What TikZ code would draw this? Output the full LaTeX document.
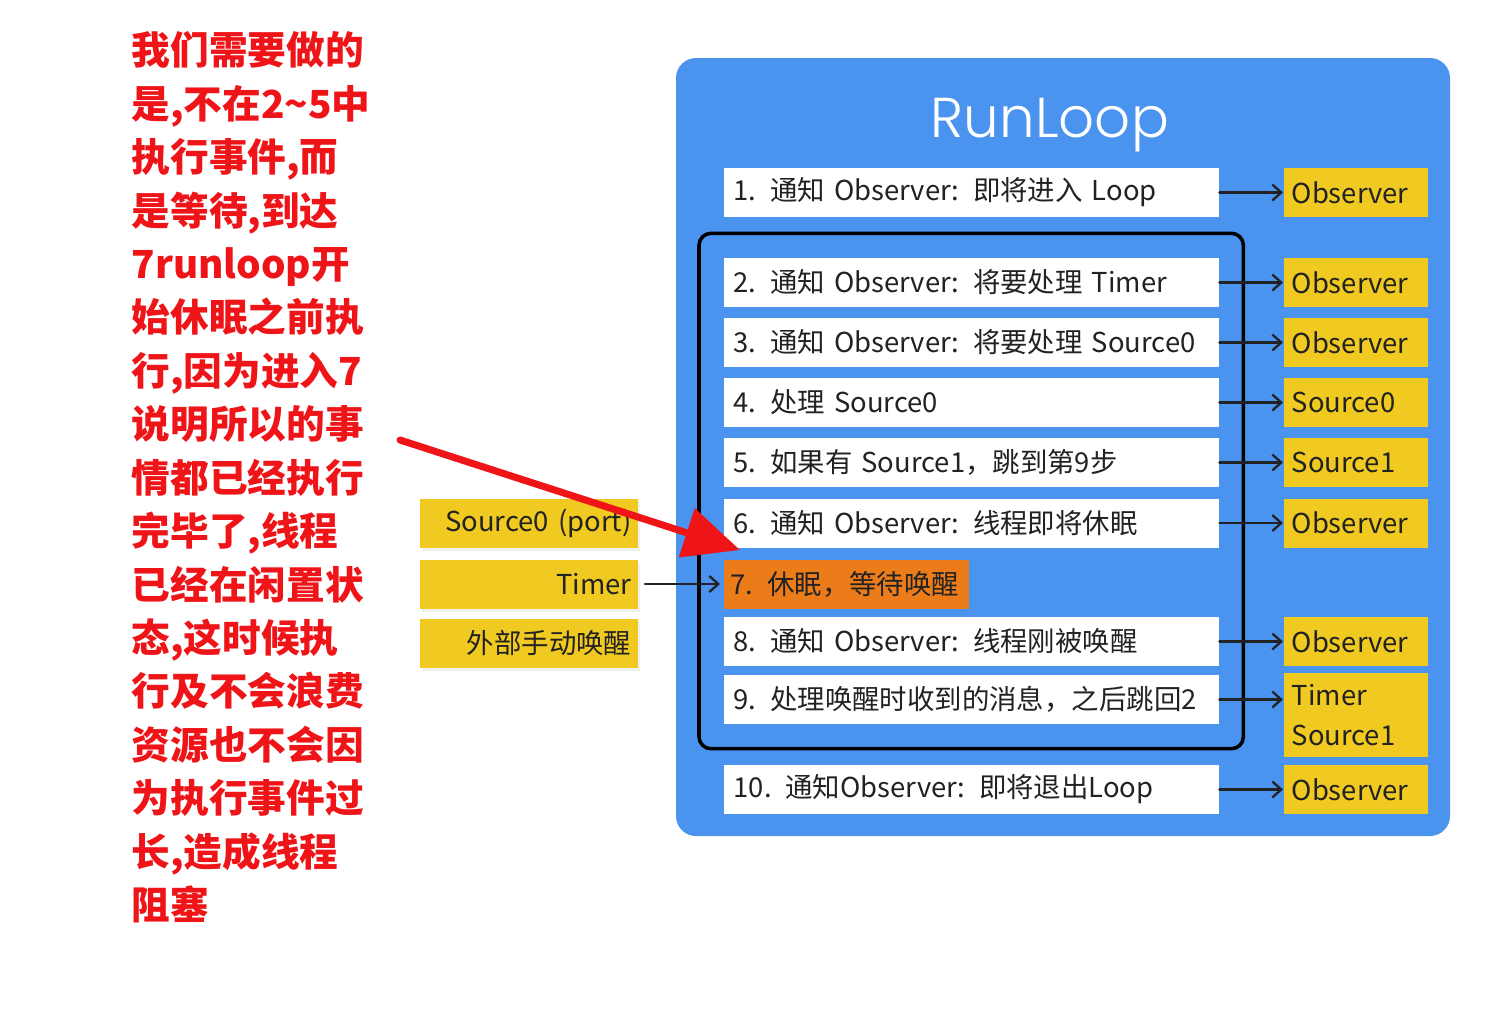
\documentclass[tikz,border=0pt]{standalone}
\usepackage{fontspec}
\setmainfont{Noto Sans CJK SC}[WordSpace=0.5]
\newfontfamily\titlefont{Poppins Light}
\newfontfamily\notefont{Noto Sans CJK SC Black}
\usetikzlibrary{arrows.meta,positioning,fit,shadows}

\definecolor{loopBlue}{RGB}{74,148,240}
\definecolor{srcYellow}{RGB}{240,202,32}
\definecolor{sleepOrange}{RGB}{236,124,26}
\definecolor{noteRed}{RGB}{238,20,24}
\definecolor{inkGray}{RGB}{34,34,34}

\begin{document}
\begin{tikzpicture}[line cap=round, line join=round]
    \tikzset{
        stepBox/.style={fill=white, anchor=west, minimum width=4.95cm, minimum height=0.49cm,
            text width=4.75cm, inner xsep=0.1cm, inner ysep=0pt, align=left,
            font=\fontsize{7.8}{9}\selectfont, text=inkGray},
        sleepBox/.style={stepBox, fill=sleepOrange, minimum width=2.45cm, text width=2.31cm, inner xsep=0.07cm},
        hookBox/.style={fill=srcYellow, anchor=west, minimum width=1.44cm, minimum height=0.49cm,
            text width=1.28cm, inner xsep=0.08cm, inner ysep=0pt, align=left,
            font=\fontsize{7.8}{11.4}\selectfont, text=inkGray},
        inputBox/.style={fill=srcYellow, anchor=east, minimum width=2.18cm, minimum height=0.49cm,
            text width=2.04cm, inner xsep=0.07cm, inner ysep=0pt, align=right,
            font=\fontsize{7.8}{9}\selectfont, text=inkGray,
            drop shadow={opacity=0.12, shadow xshift=0.02cm, shadow yshift=-0.03cm}},
        link/.style={-{Straight Barb[length=0.9mm,width=1.6mm]}, line width=0.65pt, draw=inkGray},
        loopFrame/.style={draw=black, line width=1pt, rounded corners=0.12cm, inner sep=0.24cm},
        note/.style={anchor=north west, inner sep=0pt, align=left, text=noteRed,
            font=\fontsize{11}{15.2}\notefont},
        hint/.style={draw=noteRed, line width=2pt, -{Triangle[length=0.56cm,width=0.50cm]}}
    }

    \useasboundingbox (0,0) rectangle (15,-10.12);

    % RunLoop panel
    \fill[loopBlue, rounded corners=0.2cm] (6.76,-0.58) rectangle (14.50,-8.36);
    \node[font=\fontsize{16}{20}\titlefont, text=white, anchor=base] (title) at (10.50,-1.37) {RunLoop};

    % Steps
    \node[stepBox] (r1) at (7.23,-1.925) {1. 通知 Observer: 即将进入 Loop};
    \node[stepBox] (r2) at (7.23,-2.825) {2. 通知 Observer: 将要处理 Timer};
    \node[stepBox] (r3) at (7.23,-3.425) {3. 通知 Observer: 将要处理 Source0};
    \node[stepBox] (r4) at (7.23,-4.025) {4. 处理 Source0};
    \node[stepBox] (r5) at (7.23,-4.625) {5. 如果有 Source1，跳到第9步};
    \node[stepBox] (r6) at (7.23,-5.23) {6. 通知 Observer: 线程即将休眠};
    \node[sleepBox] (r7) at (7.23,-5.84) {7. 休眠，等待唤醒};
    \node[stepBox] (r8) at (7.23,-6.415) {8. 通知 Observer: 线程刚被唤醒};
    \node[stepBox] (r9) at (7.23,-6.995) {9. 处理唤醒时收到的消息，之后跳回2};
    \node[stepBox] (r10) at (7.23,-7.895) {10. 通知Observer: 即将退出Loop};

    % Inner loop frame
    \node[loopFrame, fit=(r2)(r9)] (core) {};

    % Observers and sources
    \node[hookBox] (h1) at (12.83,-1.925) {Observer};
    \node[hookBox] (h2) at (12.83,-2.825) {Observer};
    \node[hookBox] (h3) at (12.83,-3.425) {Observer};
    \node[hookBox] (h4) at (12.83,-4.025) {Source0};
    \node[hookBox] (h5) at (12.83,-4.625) {Source1};
    \node[hookBox] (h6) at (12.83,-5.23) {Observer};
    \node[hookBox] (h8) at (12.83,-6.415) {Observer};
    \node[hookBox, minimum height=0.84cm] (h9) at (12.83,-7.15) {Timer\\Source1};
    \node[hookBox] (h10) at (12.83,-7.895) {Observer};

    \foreach \i in {1,2,3,4,5,6,8,10} {
        \draw[link] (r\i) -- (h\i);
    }
    \draw[link] (r9.east) -- (r9.east -| h9.west);

    % Wake-up inputs
    \node[inputBox] (i1) at (6.39,-5.23) {Source0 (port)};
    \node[inputBox] (i2) at (6.39,-5.84) {Timer};
    \node[inputBox] (i3) at (6.39,-6.435) {外部手动唤醒};
    \draw[link, shorten <=0.06cm, shorten >=0.03cm] (i2) -- (r7);

    % Side note
    \node[note] (memo) at (1.31,-0.31) {%
        我们需要做的\\
        是,不在2\textasciitilde5中\\
        执行事件,而\\
        是等待,到达\\
        7runloop开\\
        始休眠之前执\\
        行,因为进入7\\
        说明所以的事\\
        情都已经执行\\
        完毕了,线程\\
        已经在闲置状\\
        态,这时候执\\
        行及不会浪费\\
        资源也不会因\\
        为执行事件过\\
        长,造成线程\\
        阻塞};

    \coordinate (hintTail) at (4.00,-4.40);
    \coordinate (hintTip) at (7.40,-5.50);
    \draw[hint] (hintTail) -- (hintTip);
\end{tikzpicture}
\end{document}
